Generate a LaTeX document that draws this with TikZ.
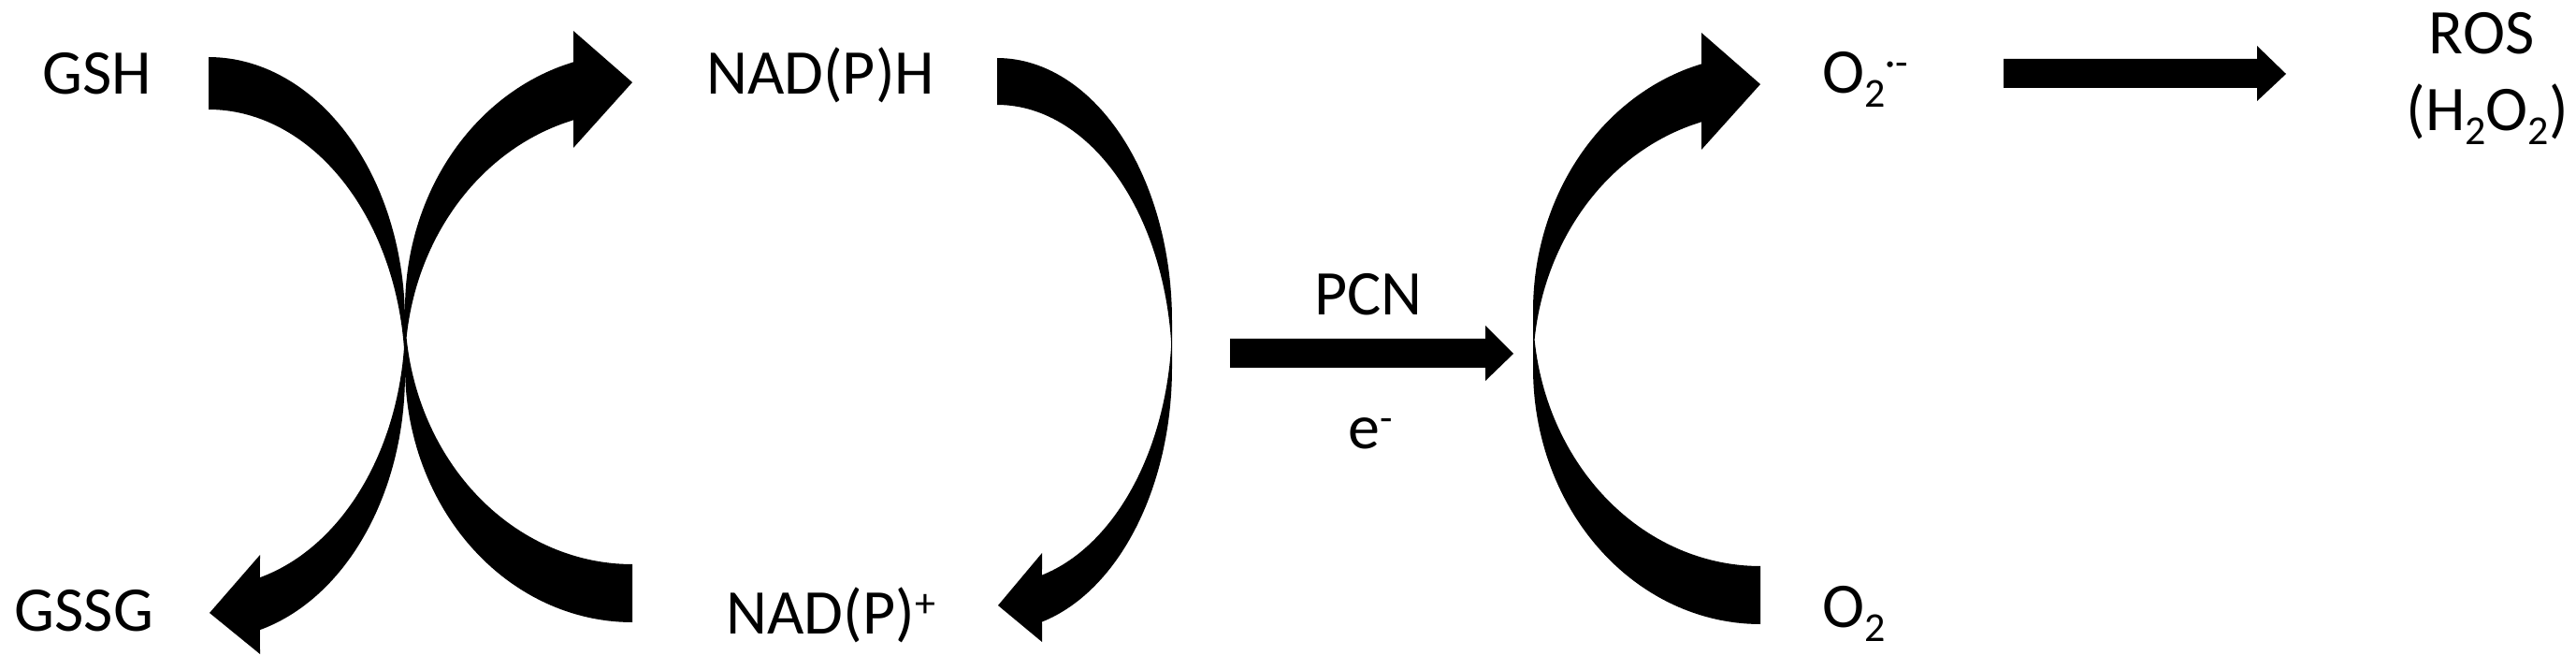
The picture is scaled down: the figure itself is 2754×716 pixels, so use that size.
\documentclass[tikz,border=0pt]{standalone}
\usepackage{fontspec}
\setmainfont{Carlito}
\newcommand\mysub[1]{\raisebox{-7.5pt}{\fontsize{22pt}{22pt}\selectfont #1}}
\newcommand\mysup[1]{\raisebox{9pt}{\fontsize{22pt}{22pt}\selectfont #1}}
\tikzset{
  lbl/.style={inner sep=0pt, outer sep=0pt, font=\fontsize{34pt}{41pt}\selectfont},
  blk/.style={fill=black, draw=none},
}
\begin{document}
\begin{tikzpicture}[x=0.5pt, y=-0.5pt]
\useasboundingbox (0,0) rectangle (2754,716);

% ---- labels ----
\node[lbl, anchor=base east] (gsh) at (162,101) {GSH};
\node[lbl, anchor=base east] (gssg) at (164,675) {GSSG};
\node[lbl, anchor=base east] (nadph) at (999,101) {NAD(P)H};
\node[lbl, anchor=base east] (nadp) at (1000,677) {NAD(P)\mysup{+}};
\node[lbl, anchor=base] (pcn) at (1463,337) {PCN};
\node[lbl, anchor=base] (el) at (1465,480) {e\mysup{-}};
\node[lbl, anchor=base west] (sup) at (1948,100) {O\mysub{2}\mysup{·-}};
\node[lbl, anchor=base west] (oxy) at (1948,670) {O\mysub{2}};
\node[lbl, anchor=base] (ros) at (2653,58) {ROS};
\node[lbl, anchor=base] (hoh) at (2659,140) {(H\mysub{2}O\mysub{2})};

% ---- curved arrow A: GSH -> GSSG ----
\fill[blk] (223,61)
  -- plot[domain=-90:0, samples=60] ({223+210*cos(\x)},{344+283*sin(\x)})
  -- plot[domain=0:74.82, samples=60] ({223+210*cos(\x)},{400+283*sin(\x)})
  -- (278,699) -- (224,655) -- (278,593)
  -- plot[domain=74.82:5.68, samples=60] ({223+210*cos(\x)},{344+283*sin(\x)})
  -- plot[domain=-5.68:-90, samples=60] ({223+210*cos(\x)},{400+283*sin(\x)})
  -- cycle;

% ---- curved arrow C: NAD(P)H -> NAD(P)+ ----
\fill[blk] (1066,62)
  -- plot[domain=-90:0, samples=60] ({1066+187*cos(\x)},{343+281*sin(\x)})
  -- plot[domain=0:75.13, samples=60] ({1066+187*cos(\x)},{393+281*sin(\x)})
  -- (1114,686) -- (1067,647) -- (1114,591)
  -- plot[domain=75.13:5.10, samples=60] ({1066+187*cos(\x)},{343+281*sin(\x)})
  -- plot[domain=-5.10:-90, samples=60] ({1066+187*cos(\x)},{393+281*sin(\x)})
  -- cycle;

% ---- curved arrow B: NAD(P)+ side -> NAD(P)H ----
\fill[blk] plot[domain=90:180, samples=60] ({676+243*cos(\x)},{392+273*sin(\x)})
  -- plot[domain=180:255, samples=60] ({676+243*cos(\x)},{330+273*sin(\x)})
  -- (613,33) -- (676,88) -- (613,158)
  -- plot[domain=255:186.52, samples=60] ({676+243*cos(\x)},{392+273*sin(\x)})
  -- plot[domain=173.48:90, samples=60] ({676+243*cos(\x)},{330+273*sin(\x)})
  -- cycle;

% ---- curved arrow D: O2 -> O2.- ----
\begin{scope}[shift={(1206,2)}]
\fill[blk] plot[domain=90:180, samples=60] ({676+243*cos(\x)},{392+273*sin(\x)})
  -- plot[domain=180:255, samples=60] ({676+243*cos(\x)},{330+273*sin(\x)})
  -- (613,33) -- (676,88) -- (613,158)
  -- plot[domain=255:186.52, samples=60] ({676+243*cos(\x)},{392+273*sin(\x)})
  -- plot[domain=173.48:90, samples=60] ({676+243*cos(\x)},{330+273*sin(\x)})
  -- cycle;
\end{scope}

% ---- straight block arrows ----
\fill[blk] (1315,362) -- (1588,362) -- (1588,348) -- (1618,378) -- (1588,407) -- (1588,393) -- (1315,393) -- cycle;
\fill[blk] (2142,63) -- (2413,63) -- (2413,49) -- (2444,79) -- (2413,108) -- (2413,94) -- (2142,94) -- cycle;
\end{tikzpicture}
\end{document}
